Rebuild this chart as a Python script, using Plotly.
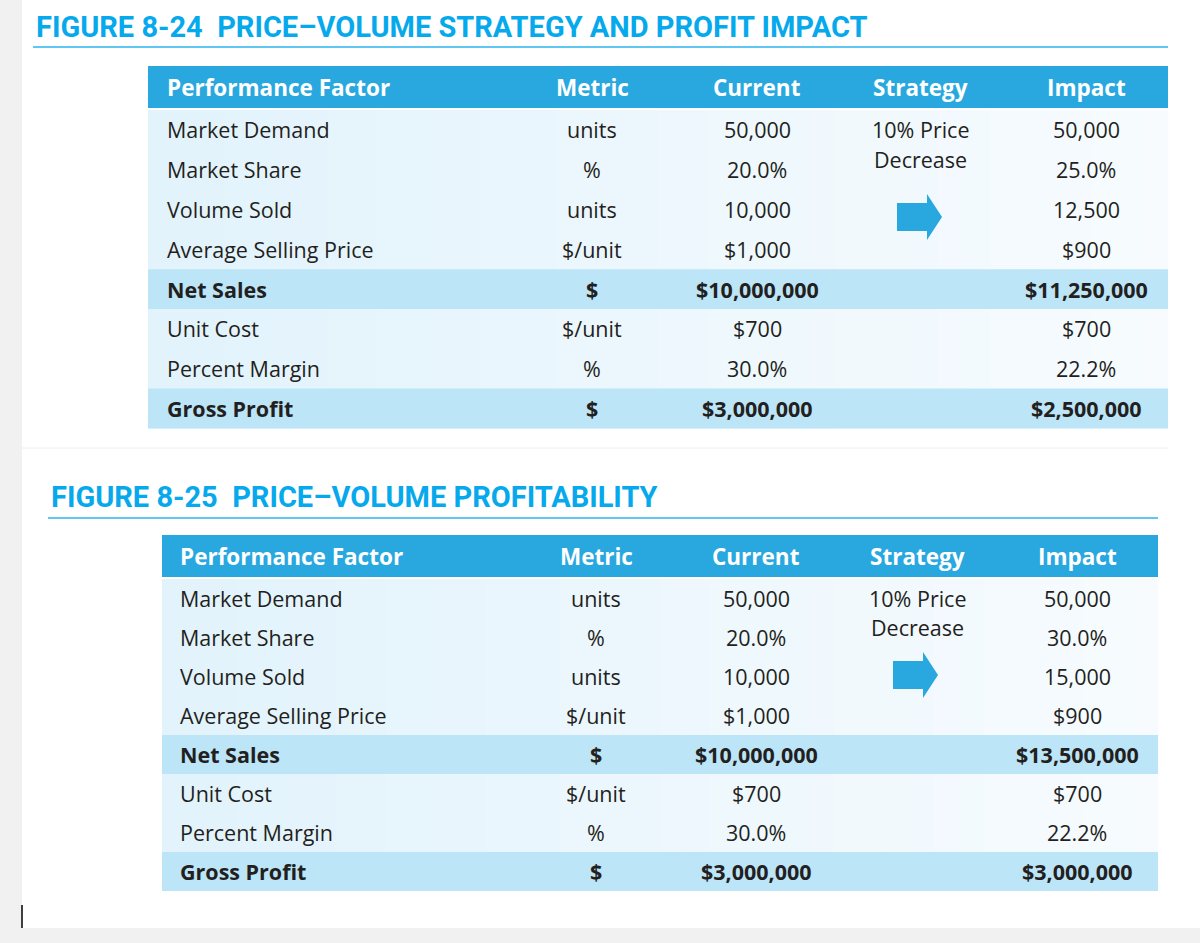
import plotly.graph_objects as go

# ---------------- data ----------------
headers = ["Performance Factor", "Metric", "Current", "Strategy", "Impact"]
factors = ["Market Demand", "Market Share", "Volume Sold", "Average Selling Price",
           "Net Sales", "Unit Cost", "Percent Margin", "Gross Profit"]
metrics = ["units", "%", "units", "$/unit", "$", "$/unit", "%", "$"]
current = ["50,000", "20.0%", "10,000", "$1,000", "$10,000,000", "$700", "30.0%", "$3,000,000"]
impact_8_24 = ["50,000", "25.0%", "12,500", "$900", "$11,250,000", "$700", "22.2%", "$2,500,000"]
impact_8_25 = ["50,000", "30.0%", "15,000", "$900", "$13,500,000", "$700", "22.2%", "$3,000,000"]
bold_rows = ["Net Sales", "Gross Profit"]
strategy_lines = ["10% Price", "Decrease"]
title_8_24 = "FIGURE 8-24  PRICE\u2013VOLUME STRATEGY AND PROFIT IMPACT"
title_8_25 = "FIGURE 8-25  PRICE\u2013VOLUME PROFITABILITY"

# ---------------- style ----------------
BLUE_TITLE = "#06A9EC"
HEADER_BLUE = "#29A8E0"
HILITE = "#BCE5F8"
TEXT = "#231F20"
FONT = "Open Sans"
BODY_SIZE = 21.5
HEAD_SIZE = 22.5
TITLE_SIZE = 29

W, H = 1200, 943
fig = go.Figure()
shapes = []
annotations = []


def hex_mix(c1, c2, t):
    a = [int(c1[i:i + 2], 16) for i in (1, 3, 5)]
    b = [int(c2[i:i + 2], 16) for i in (1, 3, 5)]
    return "#" + "".join(f"{round(a[k] + (b[k] - a[k]) * t):02x}" for k in range(3))


def text(x, y, s, size, color=TEXT, bold=False, xanchor="center", family=FONT):
    annotations.append(dict(
        x=x, y=y, xref="x", yref="y", text=f"<b>{s}</b>" if bold else s,
        showarrow=False, xanchor=xanchor, yanchor="middle",
        font=dict(family=family, size=size, color=color)))


def draw_table(title, title_x, title_y, rule_y, rule_x0, x0, x1, head_y0, head_y1,
               row_h, cols, impact, arrow_c):
    # title and rule
    text(title_x, title_y, title, TITLE_SIZE, BLUE_TITLE, bold=True, xanchor="left",
         family="Roboto")
    shapes.append(dict(type="line", xref="x", yref="y", x0=rule_x0, x1=x1,
                       y0=rule_y, y1=rule_y, line=dict(color="#2BB3EE", width=1.5)))
    # header
    shapes.append(dict(type="rect", xref="x", yref="y", x0=x0, x1=x1, y0=head_y0,
                       y1=head_y1, fillcolor=HEADER_BLUE, line=dict(width=0), layer="below"))
    hy = (head_y0 + head_y1) / 2
    for i, h in enumerate(headers):
        if i == 0:
            text(cols[0], hy, h, HEAD_SIZE, "white", True, "left")
        else:
            text(cols[i], hy, h, HEAD_SIZE, "white", True)
    # body background: light gradient then highlight rows
    top = head_y1 + 2
    bottom = top + row_h * len(factors)
    n = 40
    for k in range(n):
        xa = x0 + (x1 - x0) * k / n
        xb = x0 + (x1 - x0) * (k + 1) / n
        shapes.append(dict(type="rect", xref="x", yref="y", x0=xa, x1=xb + 0.5,
                           y0=top, y1=bottom,
                           fillcolor=hex_mix("#E2F3FC", "#F7FBFE", k / (n - 1)),
                           line=dict(width=0), layer="below"))
    for r, f in enumerate(factors):
        ry0 = top + r * row_h
        ry1 = ry0 + row_h
        cy = (ry0 + ry1) / 2
        b = f in bold_rows
        if b:
            shapes.append(dict(type="rect", xref="x", yref="y", x0=x0, x1=x1,
                               y0=ry0, y1=ry1, fillcolor=HILITE,
                               line=dict(width=0), layer="below"))
        text(cols[0], cy, f, BODY_SIZE, TEXT, b, "left")
        text(cols[1], cy, metrics[r], BODY_SIZE, TEXT, b)
        text(cols[2], cy, current[r], BODY_SIZE, TEXT, b)
        text(cols[4], cy, impact[r], BODY_SIZE, TEXT, b)
    # strategy text
    text(cols[3], top + row_h * 0.5, strategy_lines[0], BODY_SIZE)
    text(cols[3], top + row_h * 1.25, strategy_lines[1], BODY_SIZE)
    # arrow
    ax, ay = arrow_c
    path = (f"M {ax-23},{ay-14} L {ax+7},{ay-14} L {ax+7},{ay-23} L {ax+22},{ay} "
            f"L {ax+7},{ay+23} L {ax+7},{ay+14} L {ax-23},{ay+14} Z")
    shapes.append(dict(type="path", xref="x", yref="y", path=path,
                       fillcolor=HEADER_BLUE, line=dict(width=0)))


# page decorations
shapes.append(dict(type="rect", xref="x", yref="y", x0=0, x1=22, y0=0, y1=H,
                   fillcolor="#F1F1F1", line=dict(width=0), layer="below"))
shapes.append(dict(type="rect", xref="x", yref="y", x0=0, x1=W, y0=928, y1=H,
                   fillcolor="#F1F1F1", line=dict(width=0), layer="below"))
shapes.append(dict(type="line", xref="x", yref="y", x0=22, x1=22, y0=905, y1=928,
                   line=dict(color="black", width=1.5)))
shapes.append(dict(type="line", xref="x", yref="y", x0=22, x1=1168, y0=448, y1=448,
                   line=dict(color="#EEEEEE", width=1)))

draw_table(title_8_24, 34, 27, 47, 33, 148, 1168, 66, 108, 39.8,
           [165, 592, 757, 920, 1086], impact_8_24, (920, 217))
draw_table(title_8_25, 49, 497, 518, 48, 162, 1158, 535, 577, 39.0,
           [178, 596, 756, 917, 1077], impact_8_25, (916, 675))

fig.update_layout(
    width=W, height=H, margin=dict(l=0, r=0, t=0, b=0),
    paper_bgcolor="white", plot_bgcolor="white",
    xaxis=dict(range=[0, W], visible=False, fixedrange=True),
    yaxis=dict(range=[H, 0], visible=False, fixedrange=True),
    shapes=shapes, annotations=annotations, showlegend=False,
)
fig.write_html("out.html", config={"displayModeBar": False},
               post_script="document.body.style.margin='0';document.body.style.overflow='hidden';")
